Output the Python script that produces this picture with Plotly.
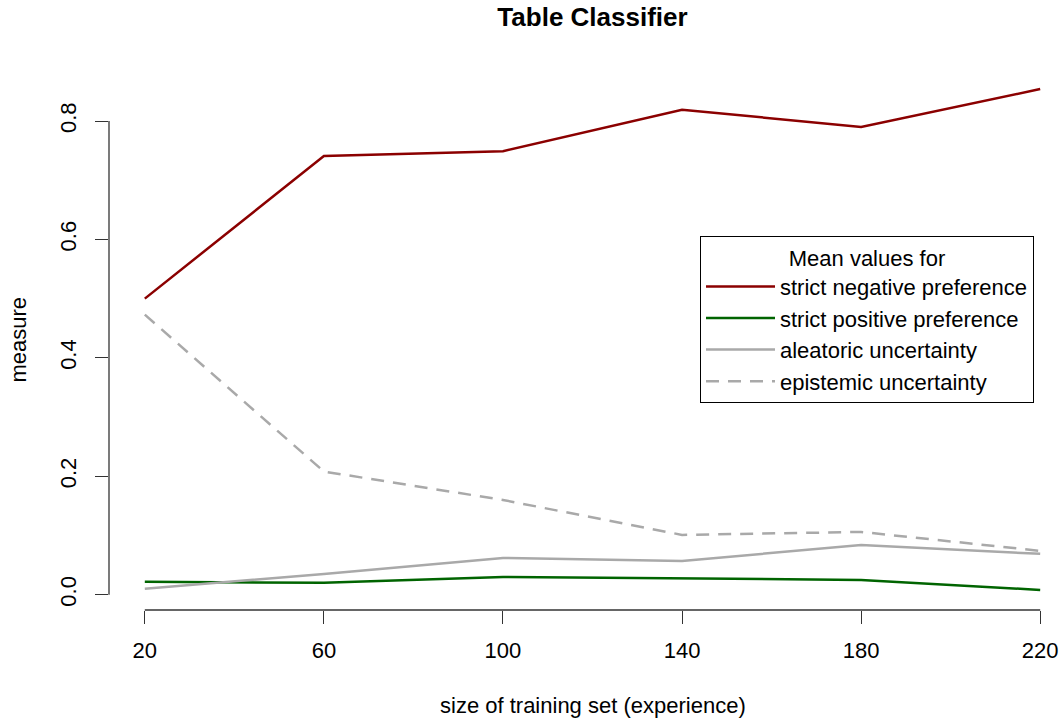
import plotly.graph_objects as go

# ---- data ----
train_size = [20, 60, 100, 140, 180, 220]
strict_negative = [0.500, 0.741, 0.749, 0.819, 0.790, 0.854]
strict_positive = [0.022, 0.020, 0.030, 0.027, 0.025, 0.008]
aleatoric = [0.010, 0.035, 0.062, 0.057, 0.084, 0.069]
epistemic = [0.473, 0.208, 0.160, 0.101, 0.106, 0.074]

x_ticks = [20, 60, 100, 140, 180, 220]
y_ticks = [0.0, 0.2, 0.4, 0.6, 0.8]
y_ticklabels = ["0.0", "0.2", "0.4", "0.6", "0.8"]

series = [
    ("strict negative preference", strict_negative, "#8B0000", "solid"),
    ("strict positive preference", strict_positive, "#006400", "solid"),
    ("aleatoric uncertainty", aleatoric, "#A9A9A9", "solid"),
    ("epistemic uncertainty", epistemic, "#A9A9A9", "13px,9px"),
]

W, H = 1062, 721
L, T, B = 109, 69, 111
FONT = "Liberation Sans, Arial, Helvetica, sans-serif"
FS = 22

# R-style 4% range extension
xmin, xmax = min(train_size), max(train_size)
xr = [xmin - 0.04 * (xmax - xmin), xmax + 0.04 * (xmax - xmin)]
allv = strict_negative + strict_positive + aleatoric + epistemic
ymin, ymax = min(allv), max(allv)
yr = [ymin - 0.04 * (ymax - ymin), ymax + 0.04 * (ymax - ymin)]
# the full R plot region runs past the window edge; clip the x range at the window
full_plot_w = 967.0
x_clip = xr[0] + (W - L) / full_plot_w * (xr[1] - xr[0])

fig = go.Figure()
for i, (name, vals, col, dash) in enumerate(series):
    fig.add_trace(go.Scatter(
        x=train_size, y=vals, mode="lines", name=name,
        line=dict(color=col, width=2.5, dash=dash),
    ))

axis_col = "#333333"
fig.update_layout(
    width=W, height=H,
    margin=dict(l=L, r=0, t=T, b=B, pad=0),
    paper_bgcolor="white", plot_bgcolor="white",
    font=dict(family=FONT, size=FS, color="black"),
    showlegend=True,
    title=dict(text="<b>Table Classifier</b>", x=592.5 / W, xanchor="center",
               y=1 - 17 / H, yanchor="middle", yref="container",
               font=dict(size=26, family=FONT)),
    xaxis=dict(range=[xr[0], x_clip], tickmode="array", tickvals=x_ticks,
               ticktext=[str(v) for v in x_ticks],
               showgrid=False, zeroline=False, showline=False,
               ticks="outside", ticklen=13, tickwidth=1.3, tickcolor=axis_col,
               tickfont=dict(size=FS), ticklabelstandoff=8),
    yaxis=dict(range=yr, tickmode="array", tickvals=y_ticks, ticktext=y_ticklabels,
               tickangle=-90, showgrid=False, zeroline=False, showline=False,
               ticks="outside", ticklen=13, tickwidth=1.3, tickcolor=axis_col,
               tickfont=dict(size=FS), ticklabelstandoff=10),
    legend=dict(x=(700 - L) / (W - L), y=(610 - 236) / (H - T - B),
                xanchor="left", yanchor="top",
                bordercolor="black", borderwidth=1, bgcolor="white",
                font=dict(size=FS),
                title=dict(text="Mean values for", side="top center",
                           font=dict(size=FS)),
                itemwidth=69),
    shapes=[
        dict(type="line", xref="x", yref="y domain", x0=x_ticks[0], x1=x_ticks[-1],
             y0=0, y1=0, line=dict(color=axis_col, width=1.3)),
        dict(type="line", xref="x domain", yref="y", x0=0, x1=0,
             y0=y_ticks[0], y1=y_ticks[-1], line=dict(color=axis_col, width=1.3)),
    ],
    annotations=[
        dict(text="size of training set (experience)", xref="paper", yref="paper",
             x=(592.5 - L) / (W - L), y=-(705 - 610) / (H - T - B),
             xanchor="center", yanchor="middle", showarrow=False,
             font=dict(size=FS)),
        dict(text="measure", xref="paper", yref="paper",
             x=-(L - 18) / (W - L), y=0.5, textangle=-90,
             xanchor="center", yanchor="middle", showarrow=False,
             font=dict(size=FS)),
    ],
)

fig.write_html("out.html")
